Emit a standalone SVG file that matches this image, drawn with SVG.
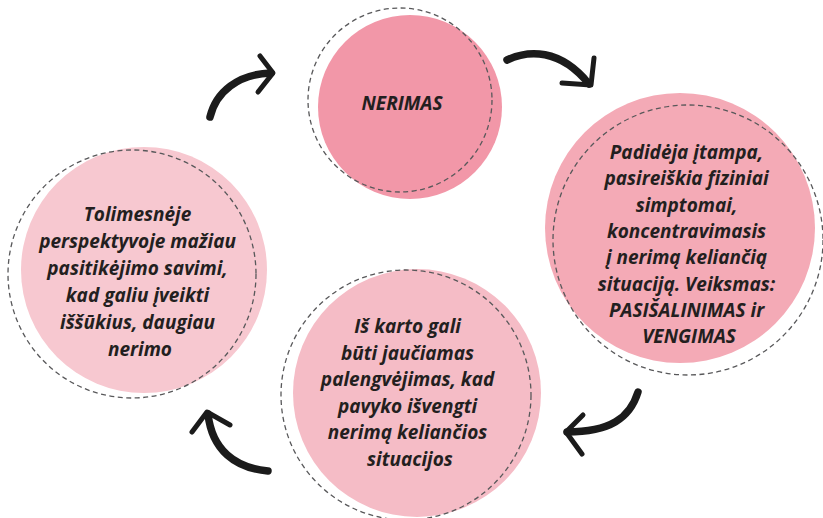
<svg xmlns="http://www.w3.org/2000/svg" width="823" height="518" viewBox="0 0 823 518">
  <style>
    .ring { fill: none; stroke: #58585a; stroke-width: 1.3; stroke-dasharray: 5 3.5; }
    .lbl { font-family: "Open Sans", "Noto Sans", "DejaVu Sans", sans-serif; font-weight: 700; font-style: italic; font-size: 19px; fill: #231f20; text-anchor: middle; }
    .shaft { fill: none; stroke: #1b1b1b; stroke-width: 7.5; stroke-linecap: round; stroke-linejoin: round; }
    .head { fill: none; stroke: #1b1b1b; stroke-width: 5; stroke-linecap: round; stroke-linejoin: round; }
  </style>

  <rect width="823" height="518" fill="#ffffff"/>

  <!-- top node -->
  <g id="node-nerimas">
    <circle cx="410" cy="107" r="92" fill="#f297a8"/>
    <circle class="ring" cx="400" cy="100" r="92"/>
    <text class="lbl" x="402" y="110" font-size="22">NERIMAS</text>
  </g>

  <!-- right node -->
  <g id="node-itampa">
    <circle cx="680" cy="228" r="135" fill="#f4aab6"/>
    <circle class="ring" cx="688" cy="240" r="135"/>
    <text class="lbl" x="689" y="159">
      <tspan x="689" dy="0">Padidėja įtampa,</tspan>
      <tspan x="689" dy="26.3">pasireiškia fiziniai</tspan>
      <tspan x="689" dy="26.3">simptomai,</tspan>
      <tspan x="689" dy="26.3">koncentravimasis</tspan>
      <tspan x="689" dy="26.3">į nerimą keliančią</tspan>
      <tspan x="689" dy="26.3">situaciją. Veiksmas:</tspan>
      <tspan x="689" dy="26.3">PASIŠALINIMAS ir</tspan>
      <tspan x="689" dy="26.3">VENGIMAS</tspan>
    </text>
  </g>

  <!-- bottom node -->
  <g id="node-palengvejimas">
    <circle cx="417" cy="393" r="124" fill="#f5bcc6"/>
    <circle class="ring" cx="406" cy="395" r="125"/>
    <text class="lbl" x="410" y="333">
      <tspan x="410" dy="0">Iš karto gali</tspan>
      <tspan x="410" dy="26.6">būti jaučiamas</tspan>
      <tspan x="410" dy="26.6">palengvėjimas, kad</tspan>
      <tspan x="410" dy="26.6">pavyko išvengti</tspan>
      <tspan x="410" dy="26.6">nerimą keliančios</tspan>
      <tspan x="410" dy="26.6">situacijos</tspan>
    </text>
  </g>

  <!-- left node -->
  <g id="node-perspektyva">
    <circle cx="144" cy="270" r="123" fill="#f7c8d0"/>
    <circle class="ring" cx="132" cy="274" r="124"/>
    <text class="lbl" x="140" y="221">
      <tspan x="140" dy="0">Tolimesnėje</tspan>
      <tspan x="140" dy="27">perspektyvoje mažiau</tspan>
      <tspan x="140" dy="27">pasitikėjimo savimi,</tspan>
      <tspan x="140" dy="27">kad galiu įveikti</tspan>
      <tspan x="140" dy="27">iššūkius, daugiau</tspan>
      <tspan x="140" dy="27">nerimo</tspan>
    </text>
  </g>

  <!-- cycle connectors -->
  <g id="connectors">
    <!-- left to top -->
    <path class="shaft" d="M210,117 C216,92 238,74 271,73"/>
    <path class="head" d="M260,56 L273,73 L258,92"/>
    <!-- top to right -->
    <path class="shaft" d="M507,60 C528,50 560,48 589,84"/>
    <path class="head" d="M594,58 L591,85 L562,83"/>
    <!-- right to bottom -->
    <path class="shaft" d="M638,392 C630,418 610,432 567,432"/>
    <path class="head" d="M583,415 L566,432 L582,454"/>
    <!-- bottom to left -->
    <path class="shaft" d="M268,471 C235,468 212,450 208,414"/>
    <path class="head" d="M192,432 L207,412 L230,425"/>
  </g>
</svg>
